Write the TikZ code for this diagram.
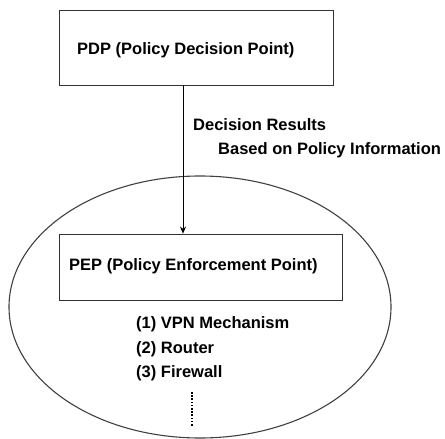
\documentclass[tikz,border=0pt]{standalone}
\usepackage{fontspec}
\setmainfont{Liberation Sans}
\usepackage{tikz}
\usetikzlibrary{positioning,calc,arrows.meta}

\begin{document}
\begin{tikzpicture}[x=1pt, y=-1pt, font=\bfseries\fontsize{16.5}{18}\selectfont,
    box/.style={draw=black!80, line width=0.8pt, minimum height=75pt, inner sep=0pt},
    lbl/.style={anchor=base west, inner sep=0pt}]
    \useasboundingbox (0,0) rectangle (445,439);
    % area of the enforcement point
    \coordinate (zone) at (200,307);
    \draw[draw=black!75, line width=1.1pt] (zone) ellipse [x radius=191pt, y radius=131pt];
    \node[box, minimum width=274pt] (pdp) at (196,47.5) {};
    \node[lbl] (pdptext) at (77,54.5) {PDP (Policy Decision Point)};
    \node[box, minimum width=283pt, minimum height=66pt] (pep) at (200.5,267) {};
    \node[lbl] (peptext) at (69,270.5) {PEP (Policy Enforcement Point)};
    \draw[-{Stealth[length=7pt,width=6pt]}, line width=0.8pt] ([xshift=-13pt]pdp.south) -- ([xshift=-13pt]pdp.south |- pep.north);
    \node[lbl] (res) at (193,130) {Decision Results};
    \node[lbl] (info) at (218,154.5) {Based on Policy Information};
    \node[lbl] (vpn) at (136,328.5) {(1) VPN Mechanism};
    \node[lbl] (router) at (136,353) {(2) Router};
    \node[lbl] (fw) at (136,377.5) {(3) Firewall};
    \coordinate (more) at (192,392);
    \draw[line width=1.6pt, dash pattern=on 1.6pt off 1.6pt] (more) -- ++(0,34);
\end{tikzpicture}
\end{document}
